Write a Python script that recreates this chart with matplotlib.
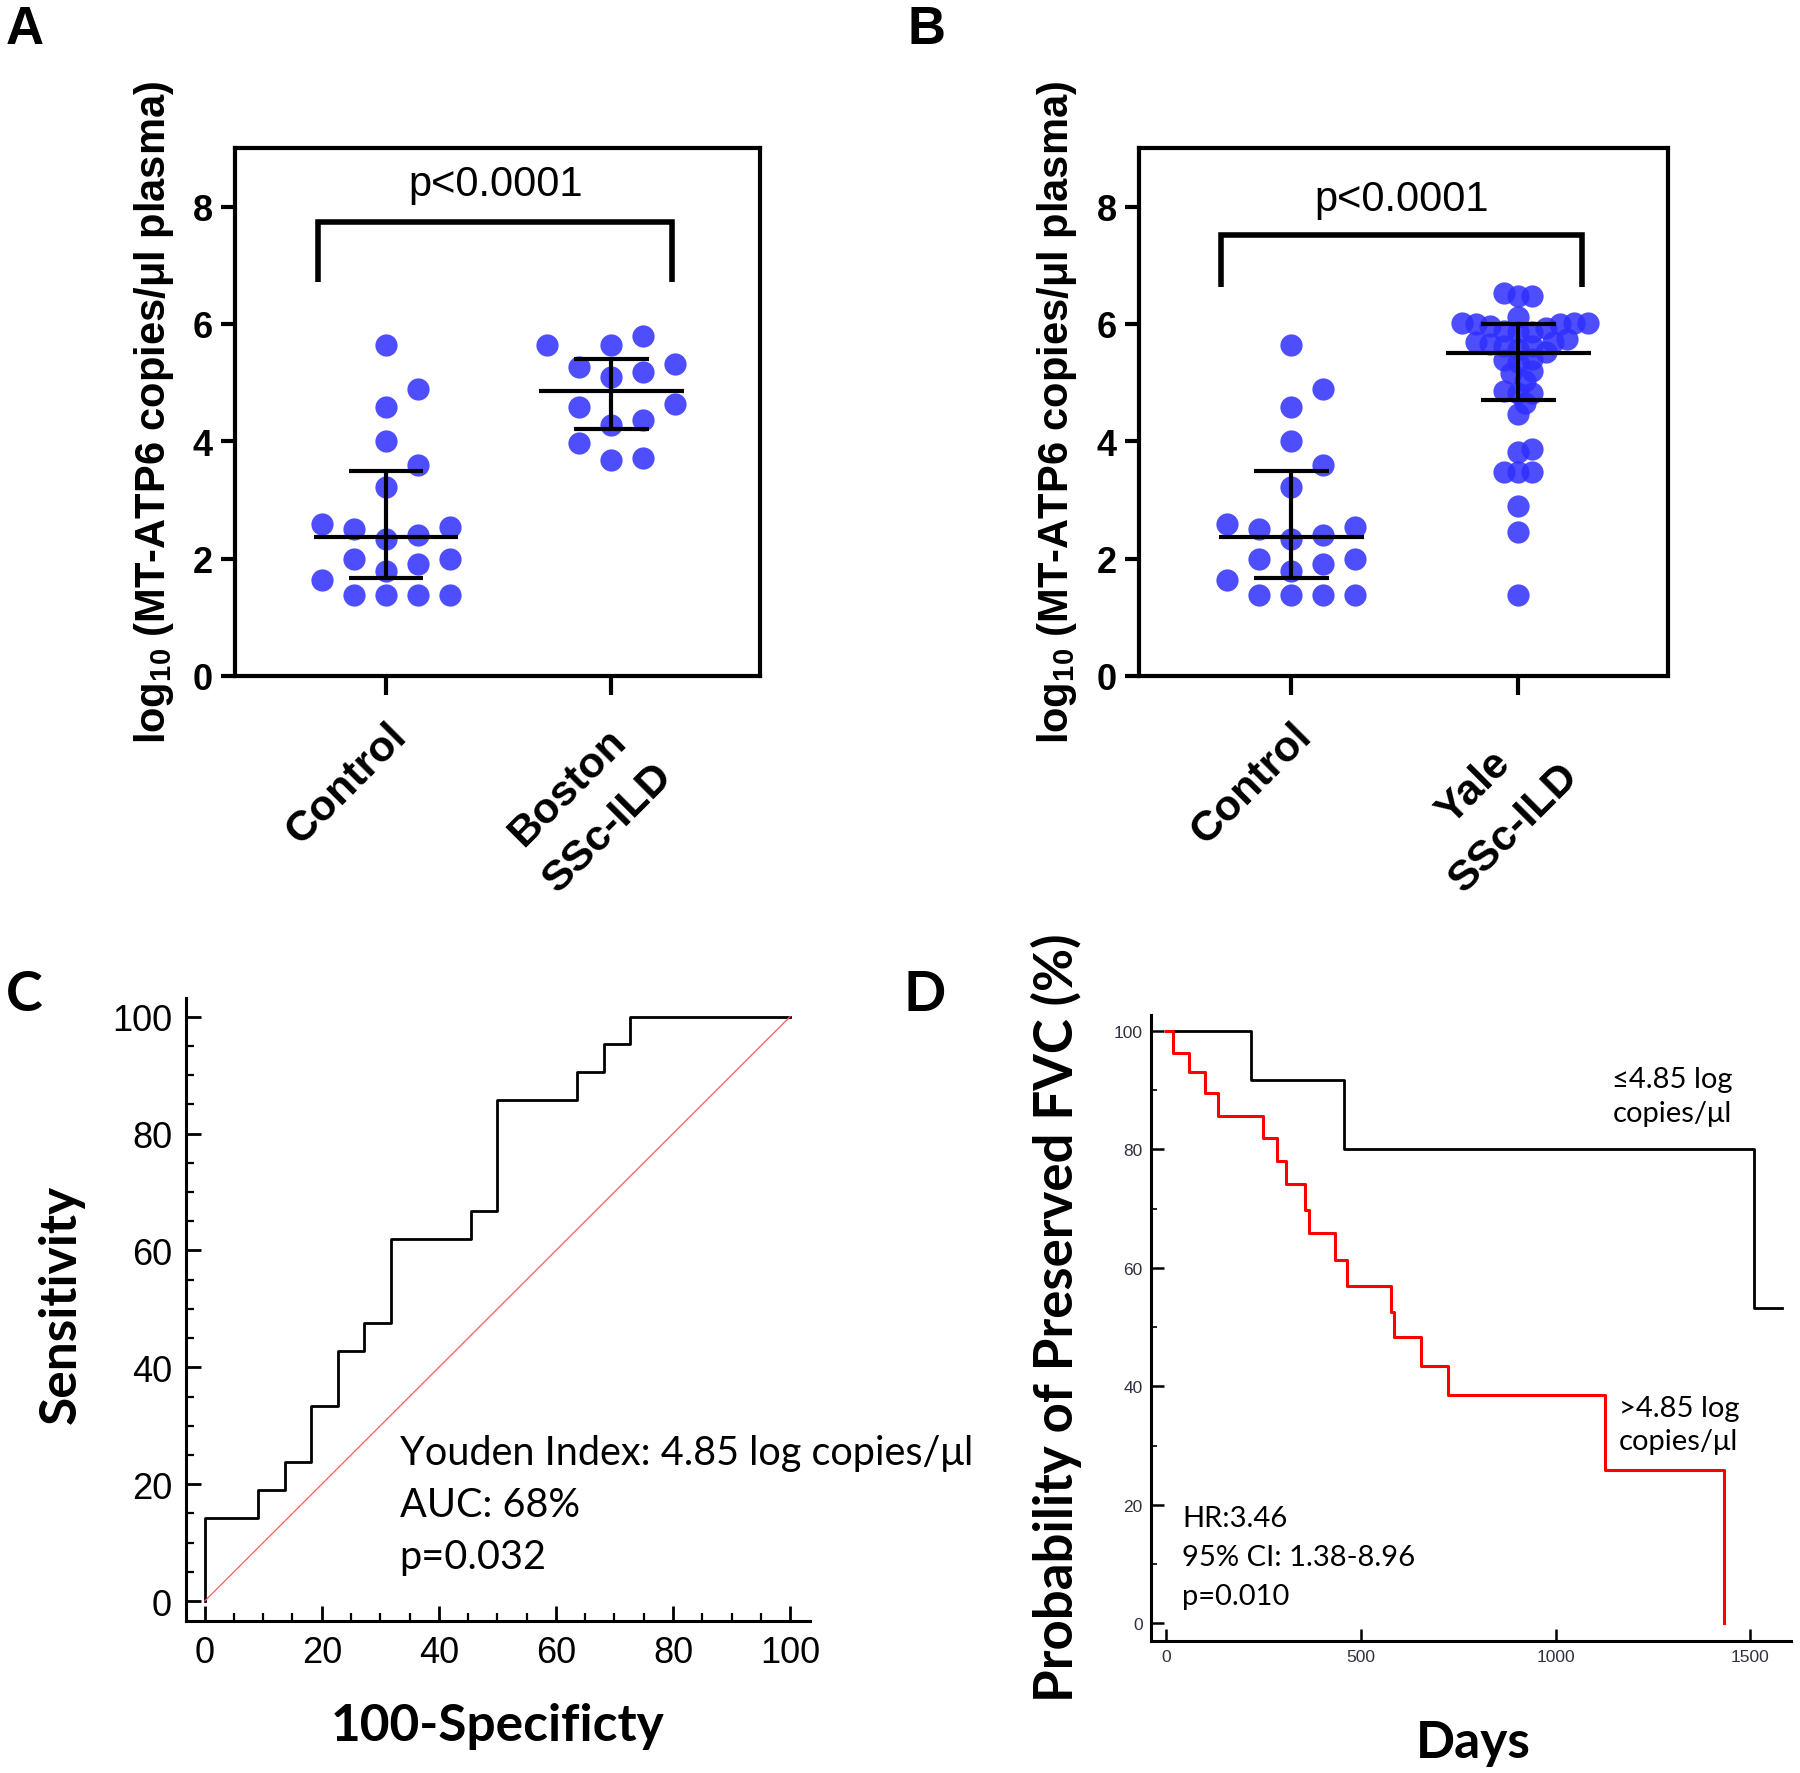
import numpy as np
import matplotlib
matplotlib.use('Agg')
import matplotlib.pyplot as plt

plt.rcParams['font.family'] = ['Liberation Sans', 'DejaVu Sans']
plt.rcParams['mathtext.default'] = 'regular'

# ---------------- data ----------------
labels_a = ['Control', 'Boston\nSSc-ILD']
labels_b = ['Control', 'Yale\nSSc-ILD']
control = [5.64, 4.89, 4.59, 4.00, 3.60, 3.22, 2.54, 2.59, 2.34, 2.40, 2.51,
           1.99, 1.91, 1.79, 1.99, 1.64, 1.38, 1.38, 1.38, 1.38]
boston = [5.32, 5.64, 5.79, 5.64, 5.09, 5.18, 5.26, 4.64, 4.58, 4.28, 4.37,
          3.97, 3.69, 3.71]
yale = [6.48, 6.53, 6.48, 5.88, 5.70, 5.87, 6.00, 6.02, 6.02, 5.87, 6.02,
        5.93, 5.96, 6.12, 6.00, 5.69, 5.63, 5.63, 5.66, 5.58, 5.75, 5.52,
        5.41, 5.35, 5.38, 5.17, 5.20, 5.02, 4.83, 4.83, 4.86, 4.65, 4.46,
        3.82, 3.87, 3.47, 3.47, 3.47, 2.90, 2.46, 1.38]
# median, lower quartile, upper quartile
control_stats = [2.37, 1.67, 3.49]
boston_stats = [4.86, 4.21, 5.41]
yale_stats = [5.50, 4.70, 6.00]
p_text = 'p<0.0001'

# ROC curve (panel C)
fpr = [0, 0, 9.09, 13.64, 18.18, 22.73, 27.27, 31.82, 45.45, 50.0, 63.64,
       68.18, 72.73, 100]
tpr = [0, 14.29, 19.05, 23.81, 33.33, 42.86, 47.62, 61.90, 66.67, 85.71,
       90.48, 95.24, 100, 100]
roc_text = ['Youden Index: 4.85 log copies/\u03bcl', 'AUC: 68%', 'p=0.032']

# Kaplan-Meier curves (panel D)
low_days = [0, 218, 455, 1510, 1583]
low_prob = [100, 91.7, 80.0, 53.3, 53.3]
high_days = [0, 16, 58, 99, 133, 247, 285, 306, 356, 367, 434, 464, 577, 585,
             655, 723, 1127, 1432]
high_prob = [100, 96.3, 93.0, 89.6, 85.7, 81.9, 78.0, 74.1, 69.8, 65.9, 61.3,
             56.9, 52.5, 48.4, 43.5, 38.6, 25.9, 0]
km_text = ['HR:3.46', '95% CI: 1.38-8.96', 'p=0.010']

BLUE = '#2f2fff'
ylab = 'log$_{10}$ (MT-ATP6 copies/\u03bcl plasma)'
LATO = ['Lato', 'DejaVu Sans']


def swarm(ax, vals, step, min_dist):
    # greedy beeswarm in pixel space, returns x offsets in data units
    x0, x1 = ax.get_xlim()
    y0, y1 = ax.get_ylim()
    px_x = ax.bbox.width / (x1 - x0)
    px_y = ax.bbox.height / (y1 - y0)
    vals = np.asarray(vals)
    offs = np.zeros(len(vals))
    placed = []
    for i in np.argsort(vals, kind='stable'):
        y = vals[i] * px_y
        for k in range(200):
            c = ((k + 1) // 2) * (1 if k % 2 else -1) * step
            if all((c - px) ** 2 + (y - py) ** 2 >= min_dist ** 2 for px, py in placed):
                break
        placed.append((c, y))
        offs[i] = c / px_x
    return offs


def dot_panel(ax, groups, stats, labels, steps, bracket):
    ax.set_xlim(0.33, 2.66)
    ax.set_ylim(0, 9)
    for j, (vals, st, (step, md)) in enumerate(zip(groups, stats, steps)):
        xc = j + 1
        off = swarm(ax, vals, step, md)
        ax.plot(xc + off, vals, 'o', ms=16, color=BLUE, alpha=0.85, mec='none', zorder=2)
        ax.hlines(st[0], xc - 0.32, xc + 0.32, color='black', lw=3, zorder=3)
        ax.hlines([st[1], st[2]], xc - 0.165, xc + 0.165, color='black', lw=3, zorder=3)
        ax.vlines(xc, st[1], st[2], color='black', lw=3, zorder=3)
    bx0, bx1, blo, bhi, ty = bracket
    ax.plot([bx0, bx0, bx1, bx1], [blo, bhi, bhi, blo], color='black', lw=4,
            solid_capstyle='butt', solid_joinstyle='miter')
    ax.text((bx0 + bx1) / 2, ty, p_text, ha='center', va='center', fontsize=30)
    for s in ax.spines.values():
        s.set_linewidth(3)
    ax.set_yticks([0, 2, 4, 6, 8])
    ax.set_xticks([1, 2])
    ax.set_xticklabels(labels, rotation=45, ha='right', va='top',
                       rotation_mode='anchor', multialignment='center',
                       fontsize=31, fontweight='bold', linespacing=1.55)
    ax.tick_params(axis='y', length=10, width=3, labelsize=26, pad=6)
    ax.tick_params(axis='x', length=14, width=3, pad=14)
    for t in ax.get_yticklabels():
        t.set_fontweight('bold')
    ax.set_ylabel(ylab, fontsize=30, fontweight='bold')


fig = plt.figure(figsize=(18, 17.74), dpi=100)

axA = fig.add_axes([0.1306, 0.6184, 0.2917, 0.2976])
dot_panel(axA, [control, boston], [control_stats, boston_stats], labels_a,
          [(32, 24), (32, 28)], (0.70, 2.27, 6.71, 7.74, 8.39))
axA.yaxis.set_label_coords(-0.112, 0.5)

axB = fig.add_axes([0.6328, 0.6184, 0.2939, 0.2976])
dot_panel(axB, [control, yale], [control_stats, yale_stats], labels_b,
          [(32, 24), (7, 12)], (0.69, 2.28, 6.63, 7.52, 8.13))
axB.yaxis.set_label_coords(-0.113, 0.5)

# ---------------- panel C ----------------
axC = fig.add_axes([0.1033, 0.0857, 0.3467, 0.3512])
axC.step(fpr, tpr, where='post', color='black', lw=2)
axC.plot([0, 100], [0, 100], color='#ff5a5a', lw=0.9)
axC.set_xlim(-3.2, 103.4)
axC.set_ylim(-3.4, 103.2)
axC.spines['top'].set_visible(False)
axC.spines['right'].set_visible(False)
for s in ['left', 'bottom']:
    axC.spines[s].set_linewidth(2.2)
axC.set_xticks(np.arange(0, 101, 20))
axC.set_yticks(np.arange(0, 101, 20))
axC.set_xticks(np.arange(0, 101, 5), minor=True)
axC.set_yticks(np.arange(0, 101, 5), minor=True)
axC.tick_params(which='major', direction='in', length=11, width=2, labelsize=26, pad=10)
axC.tick_params(which='minor', direction='in', length=6, width=1.6)
axC.set_ylabel('Sensitivity', family=LATO, fontsize=37, fontweight='bold')
axC.set_xlabel('100-Specificty', family=LATO, fontsize=37, fontweight='bold')
axC.yaxis.set_label_coords(-0.162, 0.51)
axC.xaxis.set_label_coords(0.5, -0.13)
for i, t in enumerate(roc_text):
    axC.text(33.3, 25.5 - 8.9 * i, t, family=LATO, fontsize=28.5,
             ha='left', va='center')

# ---------------- panel D ----------------
axD = fig.add_axes([0.6394, 0.0744, 0.3556, 0.3529])
axD.step(low_days, low_prob, where='post', color='black', lw=2)
axD.step(high_days, high_prob, where='post', color='#ff0000', lw=2.2)
axD.set_xlim(-40, 1605)
axD.set_ylim(-3.0, 102.7)
axD.spines['top'].set_visible(False)
axD.spines['right'].set_visible(False)
for s in ['left', 'bottom']:
    axD.spines[s].set_linewidth(2.2)
axD.set_xticks([0, 500, 1000, 1500])
axD.set_yticks(np.arange(0, 101, 20))
axD.set_yticks(np.arange(10, 100, 20), minor=True)
axD.tick_params(which='major', direction='in', length=9, width=1.8, labelsize=12.5,
                labelcolor='#303040', pad=6)
axD.tick_params(which='minor', direction='in', length=4, width=1.2)
axD.set_ylabel('Probability of Preserved FVC (%)', family=LATO,
               fontsize=38, fontweight='bold')
axD.set_xlabel('Days', family=LATO, fontsize=37, fontweight='bold')
axD.yaxis.set_label_coords(-0.107, 0.518)
axD.xaxis.set_label_coords(0.503, -0.125)
axD.text(1146, 89, '\u22644.85 log\ncopies/\u03bcl', family=LATO,
         fontsize=21, ha='left', va='center', linespacing=1.35)
axD.text(1162, 33.6, '>4.85 log\ncopies/\u03bcl', family=LATO,
         fontsize=21, ha='left', va='center', linespacing=1.35)
for i, t in enumerate(km_text):
    axD.text(40, 17.8 - 6.6 * i, t, family=LATO, fontsize=21,
             ha='left', va='center')

# panel letters
fig.text(0.003, 0.997, 'A', fontsize=38, fontweight='bold', va='top')
fig.text(0.504, 0.997, 'B', fontsize=38, fontweight='bold', va='top')
fig.text(0.003, 0.453, 'C', family=LATO, fontsize=40, fontweight='bold', va='top')
fig.text(0.502, 0.453, 'D', family=LATO, fontsize=40, fontweight='bold', va='top')

fig.savefig('out.png', dpi=100)
